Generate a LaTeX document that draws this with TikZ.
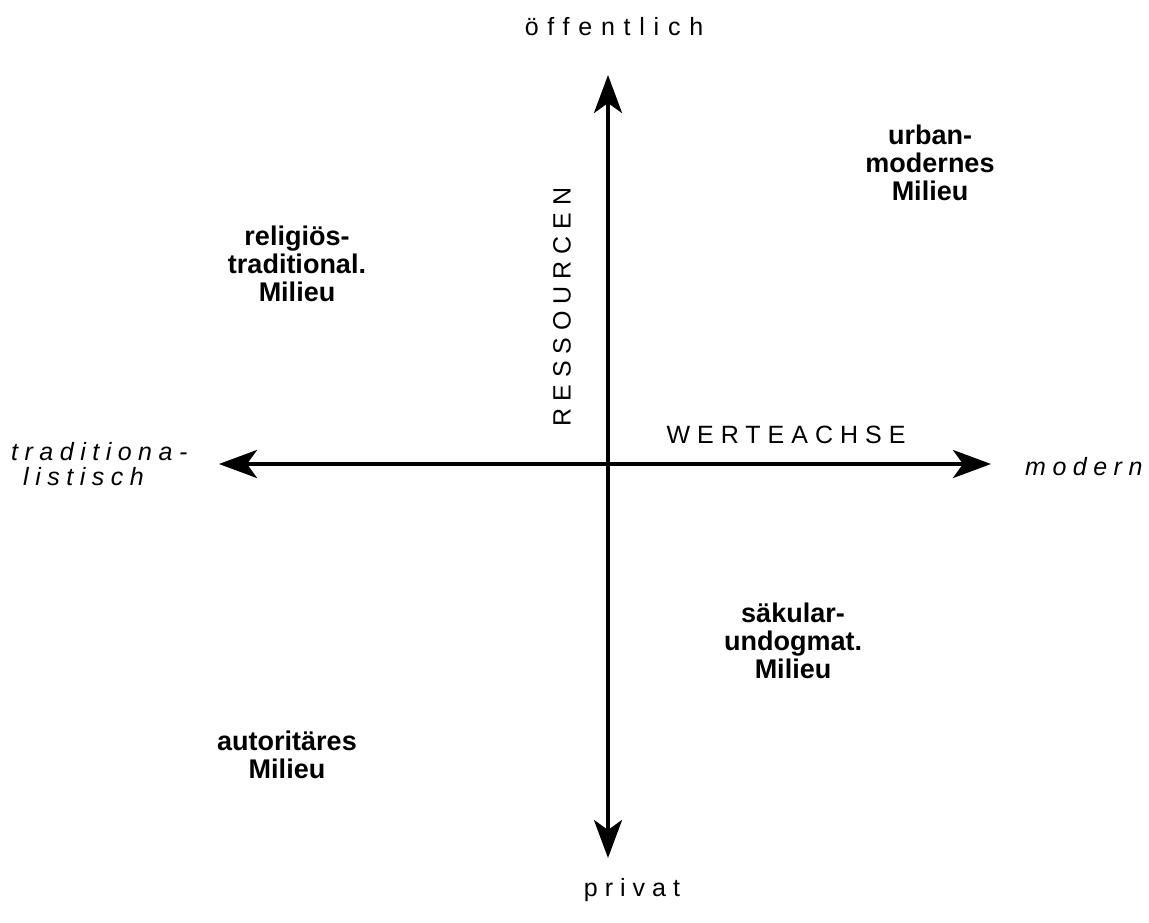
\documentclass[tikz,border=0pt]{standalone}
\usepackage{fontspec}
\setmainfont{Liberation Sans}
\usetikzlibrary{arrows.meta}
\newfontfamily\spaced[LetterSpace=28]{Liberation Sans}
\newfontfamily\spacedwide[LetterSpace=35]{Liberation Sans}
\newfontfamily\spacedit[LetterSpace=26]{Liberation Sans Italic}
\begin{document}
\begin{tikzpicture}[x=1pt,y=-1pt,
  axis/.style={line width=4pt,{Stealth[length=38pt,width=28pt,inset=10pt]}-{Stealth[length=38pt,width=28pt,inset=10pt]}},
  pole/.style={font=\fontsize{25}{28}\selectfont\spaced, inner sep=0pt},
  polei/.style={font=\fontsize{25}{25}\selectfont\spacedit, inner sep=0pt, align=left},
  milieu/.style={font=\fontsize{27}{28}\selectfont\bfseries, align=center, inner sep=0pt}]
\useasboundingbox (0,0) rectangle (1149,922);
\coordinate (top) at (608,75);
\coordinate (bottom) at (608,858);
\coordinate (left) at (219,464);
\coordinate (right) at (991,464);
\draw[axis] (bottom) -- (top);
\draw[axis] (left) -- (right);
\node[pole, font=\fontsize{25}{28}\selectfont\spacedwide] (oeff) at (614,27) {öffentlich};
\node[pole] (priv) at (632,890) {privat};
\node[pole, rotate=90] (ress) at (562,307) {RESSOURCEN};
\node[pole] (wert) at (786,435) {WERTEACHSE};
\node[polei, anchor=west] (trad1) at (11,452) {traditiona-};
\node[polei, anchor=west] (trad2) at (23,477) {listisch};
\node[polei, anchor=west] (mod) at (1025,467) {modern};
\node[milieu] (urban) at (930,163) {urban-\\modernes\\Milieu};
\node[milieu] (relig) at (297,264) {religiös-\\traditional.\\Milieu};
\node[milieu] (saek) at (793,641) {säkular-\\undogmat.\\Milieu};
\node[milieu] (auto) at (287,755) {autoritäres\\Milieu};
\end{tikzpicture}
\end{document}
